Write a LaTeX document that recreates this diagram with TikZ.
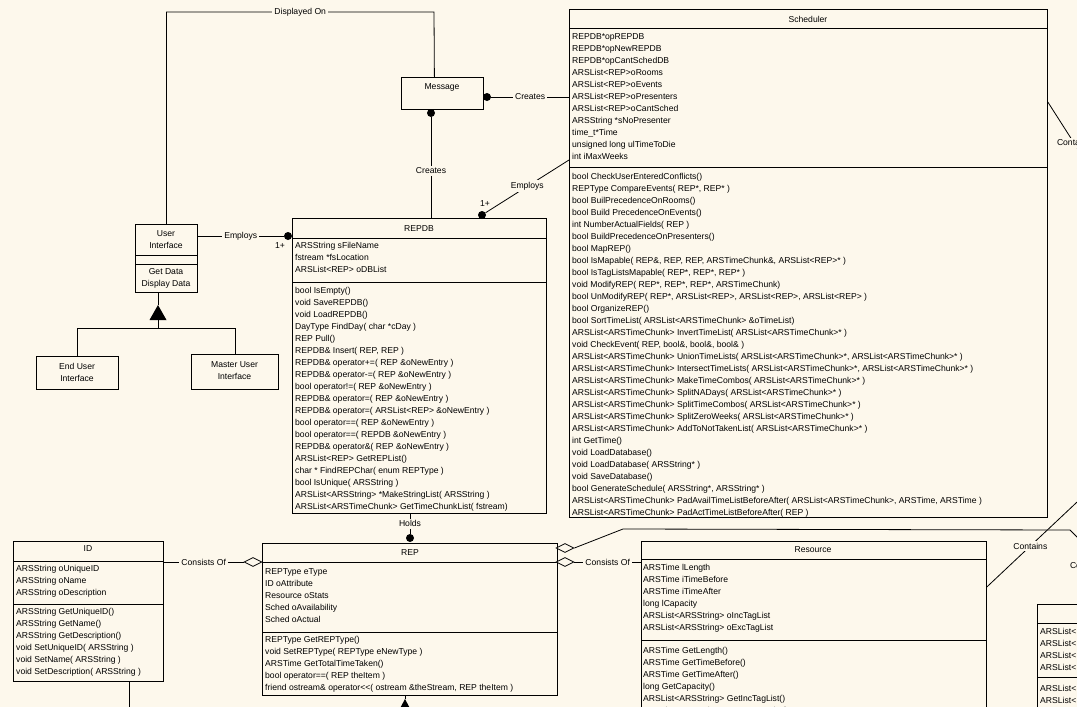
\documentclass[tikz,border=0pt]{standalone}
\usepackage{fontspec}
\setmainfont{Liberation Sans}
\usepackage{tikz}
\usetikzlibrary{shapes.geometric, positioning}
\definecolor{paper}{RGB}{253,248,236}
\newcommand{\umlfont}{\fontsize{8.6}{12}\selectfont}
\tikzset{
    classbox/.style={rectangle, draw=black, line width=0.8pt, anchor=north west, inner sep=0pt},
    members/.style={anchor=north west, inner sep=0pt, align=left, font=\umlfont, execute at begin node=\strut},
    cname/.style={inner sep=0pt, align=center, font=\umlfont},
    tag/.style={fill=paper, inner sep=2pt, font=\umlfont},
    link/.style={draw=black, line width=0.8pt},
    many/.style={circle, fill=black, inner sep=0pt, minimum size=8pt},
    aggr/.style={diamond, draw=black, fill=paper, line width=0.8pt, inner sep=0pt, minimum width=18pt, minimum height=9pt},
}

\begin{document}
\begin{tikzpicture}[x=1pt, y=-1pt]
  \useasboundingbox (0,0) rectangle (1077,707);
  \fill[paper] (0,0) rectangle (1077,707);
  \clip (0,0) rectangle (1077,707);

  % Scheduler
  \node[classbox, minimum width=478, minimum height=508] (sched) at (569,9) {};
  \draw[link] ([yshift=-19pt]sched.north west) -- ([yshift=-19pt]sched.north east);
  \draw[link] ([yshift=-158pt]sched.north west) -- ([yshift=-158pt]sched.north east);
  \node[cname] (schedname) at (808,19) {Scheduler};
  \node[members] (schedattr) at (572,33.2) {REPDB*opREPDB\\REPDB*opNewREPDB\\REPDB*opCantSchedDB\\ARSList<REP>oRooms\\ARSList<REP>oEvents\\ARSList<REP>oPresenters\\ARSList<REP>oCantSched\\ARSString *sNoPresenter\\time\_t*Time\\unsigned long ulTimeToDie\\int iMaxWeeks};
  \node[members] (schedops) at (572,173) {bool CheckUserEnteredConflicts()\\REPType CompareEvents( REP*, REP* )\\bool BuilPrecedenceOnRooms()\\bool Build PrecedenceOnEvents()\\int NumberActualFields( REP )\\bool BuildPrecedenceOnPresenters()\\bool MapREP()\\bool IsMapable( REP\&, REP, REP, ARSTimeChunk\&, ARSList<REP>* )\\bool IsTagListsMapable( REP*, REP*, REP* )\\void ModifyREP( REP*, REP*, REP*, ARSTimeChunk)\\bool UnModifyREP( REP*, ARSList<REP>, ARSList<REP>, ARSList<REP> )\\bool OrganizeREP()\\bool SortTimeList( ARSList<ARSTimeChunk> \&oTimeList)\\ARSList<ARSTimeChunk> InvertTimeList( ARSList<ARSTimeChunk>* )\\void CheckEvent( REP, bool\&, bool\&, bool\& )\\ARSList<ARSTimeChunk> UnionTimeLists( ARSList<ARSTimeChunk>*, ARSList<ARSTimeChunk>* )\\ARSList<ARSTimeChunk> IntersectTimeLists( ARSList<ARSTimeChunk>*, ARSList<ARSTimeChunk>* )\\ARSList<ARSTimeChunk> MakeTimeCombos( ARSList<ARSTimeChunk>* )\\ARSList<ARSTimeChunk> SplitNADays( ARSList<ARSTimeChunk>* )\\ARSList<ARSTimeChunk> SplitTimeCombos( ARSList<ARSTimeChunk>* )\\ARSList<ARSTimeChunk> SplitZeroWeeks( ARSList<ARSTimeChunk>* )\\ARSList<ARSTimeChunk> AddToNotTakenList( ARSList<ARSTimeChunk>* )\\int GetTime()\\void LoadDatabase()\\void LoadDatabase( ARSString* )\\void SaveDatabase()\\bool GenerateSchedule( ARSString*, ARSString* )\\ARSList<ARSTimeChunk> PadAvailTimeListBeforeAfter( ARSList<ARSTimeChunk>, ARSTime, ARSTime )\\ARSList<ARSTimeChunk> PadActTimeListBeforeAfter( REP )};

  % REPDB
  \node[classbox, minimum width=254, minimum height=295] (repdb) at (292,218) {};
  \draw[link] ([yshift=-20pt]repdb.north west) -- ([yshift=-20pt]repdb.north east);
  \draw[link] ([yshift=-64pt]repdb.north west) -- ([yshift=-64pt]repdb.north east);
  \node[cname] (repdbname) at (419,229) {REPDB};
  \node[members] (repdbattr) at (295,242.2) {ARSString sFileName\\fstream *fsLocation\\ARSList<REP> oDBList};
  \node[members] (repdbops) at (295,287.2) {bool IsEmpty()\\void SaveREPDB()\\void LoadREPDB()\\DayType FindDay( char *cDay )\\REP Pull()\\REPDB\& Insert( REP, REP )\\REPDB\& operator+=( REP \&oNewEntry )\\REPDB\& operator-=( REP \&oNewEntry )\\bool operator!=( REP \&oNewEntry )\\REPDB\& operator=( REP \&oNewEntry )\\REPDB\& operator=( ARSList<REP> \&oNewEntry )\\bool operator==( REP \&oNewEntry )\\bool operator==( REPDB \&oNewEntry )\\REPDB\& operator\&( REP \&oNewEntry )\\ARSList<REP> GetREPList()\\char * FindREPChar( enum REPType )\\bool IsUnique( ARSString )\\ARSList<ARSString> *MakeStringList( ARSString )\\ARSList<ARSTimeChunk> GetTimeChunkList( fstream)};

  % REP
  \node[classbox, minimum width=295, minimum height=152] (rep) at (262,543) {};
  \draw[link] ([yshift=-19pt]rep.north west) -- ([yshift=-19pt]rep.north east);
  \draw[link] ([yshift=-89pt]rep.north west) -- ([yshift=-89pt]rep.north east);
  \node[cname] (repname) at (410,553) {REP};
  \node[members] (repattr) at (265,568.2) {REPType eType\\ID oAttribute\\Resource oStats\\Sched oAvailability\\Sched oActual};
  \node[members] (repops) at (265,636) {REPType GetREPType()\\void SetREPType( REPType eNewType )\\ARSTime GetTotalTimeTaken()\\bool operator==( REP theItem )\\friend ostream\& operator<{}<( ostream \&theStream, REP theItem )};

  % ID
  \node[classbox, minimum width=150, minimum height=140] (id) at (13,541) {};
  \draw[link] ([yshift=-20pt]id.north west) -- ([yshift=-20pt]id.north east);
  \draw[link] ([yshift=-63pt]id.north west) -- ([yshift=-63pt]id.north east);
  \node[cname] (idname) at (88,549) {ID};
  \node[members] (idattr) at (16,565.2) {ARSString oUniqueID\\ARSString oName\\ARSString oDescription};
  \node[members] (idops) at (16,608.2) {ARSString GetUniqueID()\\ARSString GetName()\\ARSString GetDescription()\\void SetUniqueID( ARSString )\\void SetName( ARSString )\\void SetDescription( ARSString )};

  % Resource
  \node[classbox, minimum width=345, minimum height=200] (res) at (641,541) {};
  \draw[link] ([yshift=-18pt]res.north west) -- ([yshift=-18pt]res.north east);
  \draw[link] ([yshift=-99pt]res.north west) -- ([yshift=-99pt]res.north east);
  \node[cname] (resname) at (813,550) {Resource};
  \node[members] (resattr) at (643,564.2) {ARSTime lLength\\ARSTime iTimeBefore\\ARSTime iTimeAfter\\long lCapacity\\ARSList<ARSString> oIncTagList\\ARSList<ARSString> oExcTagList};
  \node[members] (resops) at (643,647.2) {ARSTime GetLength()\\ARSTime GetTimeBefore()\\ARSTime GetTimeAfter()\\long GetCapacity()\\ARSList<ARSString> GetIncTagList()\\ARSList<ARSString> GetExcTagList()};

  % class cut by the right edge
  \node[classbox, minimum width=100, minimum height=120] (part) at (1037,604) {};
  \draw[link] ([yshift=-19pt]part.north west) -- ([yshift=-19pt]part.north east);
  \draw[link] ([yshift=-73pt]part.north west) -- ([yshift=-73pt]part.north east);
  \node[members] (partattr) at (1040,628.2) {ARSList<\\ARSList<\\ARSList<\\ARSList<};
  \node[members] (partops) at (1040,685.2) {ARSList<\\ARSList<};

  % user interfaces and message
  \node[classbox, minimum width=62, minimum height=68] (ui) at (135,224) {};
  \draw[link] ([yshift=-31pt]ui.north west) -- ([yshift=-31pt]ui.north east);
  \draw[link] ([yshift=-40pt]ui.north west) -- ([yshift=-40pt]ui.north east);
  \node[cname] (uiname) at (166,240) {User\\Interface};
  \node[cname] (uiops) at (166,278) {Get Data\\Display Data};
  \node[classbox, minimum width=82, minimum height=33] (eui) at (36,356) {};
  \node[cname] (euiname) at (77,372) {End User\\Interface};
  \node[classbox, minimum width=87, minimum height=35] (mui) at (191,354) {};
  \node[cname] (muiname) at (234.5,371) {Master User\\Interface};
  \node[classbox, minimum width=82, minimum height=32] (msg) at (401,77) {};
  \node[cname] (msgname) at (442,87) {Message};

  % inheritance
  \coordinate (genapex) at (158,305);
  \coordinate (genbar) at (158,328);
  \draw[link] (genapex |- ui.south) -- (genapex);
  \fill (genapex) -- ++(-8.5,15) -- ++(17,0) -- cycle;
  \draw[link] ([yshift=-15pt]genapex) -- (genbar);
  \draw[link] (eui.north) -- (eui.north |- genbar) -| (mui.north);
  \coordinate (repgen) at (405,699);
  \draw[link] (repgen |- rep.south) -- (repgen);
  \fill (repgen) -- ++(-8,15) -- ++(16,0) -- cycle;

  % associations
  \draw[link] (ui.north) -- (ui.north |- 0,12) -- node[tag]{Displayed On} (434,12) -- ([xshift=-8pt]msg.north);
  \node[many] (msgdot1) at (487,97) {};
  \draw[link] (msgdot1) -- node[tag]{Creates} (sched.west |- msgdot1);
  \node[many] (msgdot2) at (431,113) {};
  \draw[link] (msgdot2) -- node[tag, pos=0.53]{Creates} (msgdot2 |- repdb.north);
  \node[many] (repdbdot1) at (482,215) {};
  \draw[link] (repdbdot1) -- node[tag]{Employs} ([yshift=-151pt]sched.north west);
  \node[cname] (mult1) at (485,204) {1+};
  \node[many] (repdbdot2) at (288,236) {};
  \draw[link] (ui.east |- repdbdot2) -- node[tag]{Employs} (repdbdot2);
  \node[cname] (mult2) at (280,246) {1+};
  \node[many] (repdot) at (410,538) {};
  \draw[link] (repdot |- repdb.south) -- node[tag]{Holds} (repdot);
  \coordinate (idlow) at (129,712);
  \draw[link] (idlow |- id.south) -- (idlow);

  % aggregations
  \node[aggr] (repagg1) at (253,562) {};
  \draw[link] (id.east |- repagg1) -- node[tag]{Consists Of} (repagg1.west);
  \node[aggr] (repagg2) at (565,562) {};
  \draw[link] (repagg2.east) -- node[tag]{Consists Of} (res.west |- repagg2);
  \node[aggr] (repagg3) at (565,548) {};
  \coordinate (cont1) at (1110,570);
  \draw[link] (repagg3.east) -- (623,529) -- (1070,530) -- (cont1);
  \node[tag] (conttag1) at (1087,565) {Contains};
  \coordinate (cont2) at (1090,168);
  \draw[link] ([yshift=-93pt]sched.north east) -- node[tag, pos=0.62]{Contains} (cont2);
  \coordinate (cont3) at (1093,487);
  \draw[link] ([yshift=-46pt]res.north east) -- node[tag, pos=0.41]{Contains} (cont3);
\end{tikzpicture}
\end{document}
